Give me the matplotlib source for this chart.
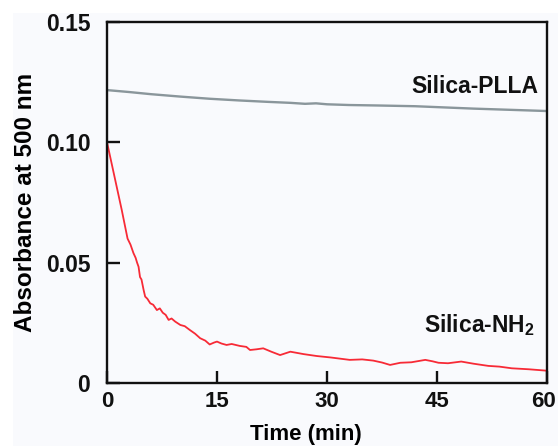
import matplotlib
matplotlib.use("Agg")
import matplotlib.pyplot as plt
import matplotlib.transforms as mtransforms
from matplotlib.patches import Rectangle

plt.rcParams['font.family'] = ['Liberation Sans', 'DejaVu Sans']
plt.rcParams['font.weight'] = 'bold'
plt.rcParams['mathtext.fontset'] = 'custom'
plt.rcParams['mathtext.bf'] = 'Liberation Sans:bold'
plt.rcParams['mathtext.rm'] = 'Liberation Sans:bold'

# absorbance traces (min, a.u.)
t_plla = [0, 3, 6, 10, 14, 18, 22, 25, 27, 28.5, 30, 33, 37, 42, 46, 50, 54, 57, 60]
a_plla = [0.1217, 0.1209, 0.1200, 0.1190, 0.1181, 0.1174, 0.1168, 0.1164, 0.1160,
          0.1162, 0.1158, 0.1155, 0.1153, 0.1150, 0.1145, 0.1140, 0.1136, 0.1133, 0.1130]

t_nh2 = [0, 0.5, 1.0, 1.5, 2.0, 2.4, 2.8, 3.2, 3.6, 3.9, 4.1, 4.3, 4.5, 4.7, 5.0,
         5.2, 5.5, 5.9, 6.3, 6.8, 7.2, 7.6, 8.0, 8.4, 8.8, 9.3, 10.0, 10.6, 11.3,
         12.0, 12.7, 13.4, 14.0, 14.6, 15.0, 15.6, 16.3, 17.0, 18.1, 19.0, 19.5,
         20.4, 21.3, 22.4, 23.6, 25.0, 26.8, 28.6, 30.5, 33.1, 34.8, 36.3, 37.5,
         38.6, 40.0, 41.5, 43.4, 44.4, 45.2, 46.5, 48.3, 50.0, 52.0, 53.5, 55.2,
         57.5, 60.0]
a_nh2 = [0.1000, 0.0930, 0.0860, 0.0790, 0.0720, 0.0660, 0.0600, 0.0575, 0.0540,
         0.0520, 0.0500, 0.0483, 0.0440, 0.0430, 0.0385, 0.0359, 0.0350, 0.0331,
         0.0325, 0.0303, 0.0310, 0.0292, 0.0283, 0.0262, 0.0268, 0.0255, 0.0241,
         0.0236, 0.0220, 0.0205, 0.0186, 0.0176, 0.0160, 0.0168, 0.0172, 0.0164,
         0.0158, 0.0162, 0.0154, 0.0150, 0.0137, 0.0140, 0.0144, 0.0130, 0.0116,
         0.0130, 0.0120, 0.0112, 0.0106, 0.0096, 0.0098, 0.0093, 0.0085, 0.0075,
         0.0084, 0.0086, 0.0096, 0.0090, 0.0084, 0.0082, 0.0089, 0.0080, 0.0071,
         0.0068, 0.0061, 0.0057, 0.0051]

fig = plt.figure(figsize=(5.58, 4.46), dpi=100, facecolor='#f9fafd')
# white margin strips along the left and top edge
fig.patches.append(Rectangle((0, 0), 13 / 558, 1, transform=fig.transFigure,
                             facecolor='white', edgecolor='none', zorder=-1))
fig.patches.append(Rectangle((0, 1 - 13 / 446), 1, 13 / 446, transform=fig.transFigure,
                             facecolor='white', edgecolor='none', zorder=-1))

ax = fig.add_axes([0.1918, 0.1413, 0.7885, 0.8094])
ax.set_facecolor('#f9fafd')

ax.plot(t_plla, a_plla, color='#8a969b', lw=1.7)
ax.plot(t_nh2, a_nh2, color='#f72a36', lw=1.3)

ax.set_xlim(0, 60)
ax.set_ylim(0, 0.15)
ax.set_xticks([0, 15, 30, 45, 60])
ax.set_yticks([0, 0.05, 0.10, 0.15])
ax.set_yticklabels(['0', '0.05', '0.10', '0.15'])

for s in ax.spines.values():
    s.set_linewidth(1.7)
    s.set_color('#111111')
ax.tick_params(direction='in', length=9, width=1.7, labelsize=16.5,
               top=False, right=False, colors='#111111')
ax.tick_params(axis='y', pad=12)
ax.tick_params(axis='x', pad=6, labelsize=16)

# last x label sits against the figure edge; nudge it inward a little
last = ax.get_xticklabels()[-1]
last.set_transform(last.get_transform() +
                   mtransforms.ScaledTranslation(-4 / 100, 0, fig.dpi_scale_trans))

ax.set_xlabel('Time (min)', fontsize=16, fontweight='bold')
ax.xaxis.set_label_coords(0.452, -0.115)
ax.set_ylabel('Absorbance at 500 nm', fontsize=17.5, fontweight='bold', labelpad=6)

ax.text(58.8, 0.1205, 'Silica-PLLA', ha='right', va='baseline',
        fontsize=16.5, fontweight='bold', color='#111111')
ax.text(58.4, 0.0212, r'Silica-NH$_\mathbf{2}$', ha='right', va='baseline',
        fontsize=16.5, fontweight='bold', color='#111111')

fig.savefig('out.png', dpi=100, facecolor=fig.get_facecolor())
